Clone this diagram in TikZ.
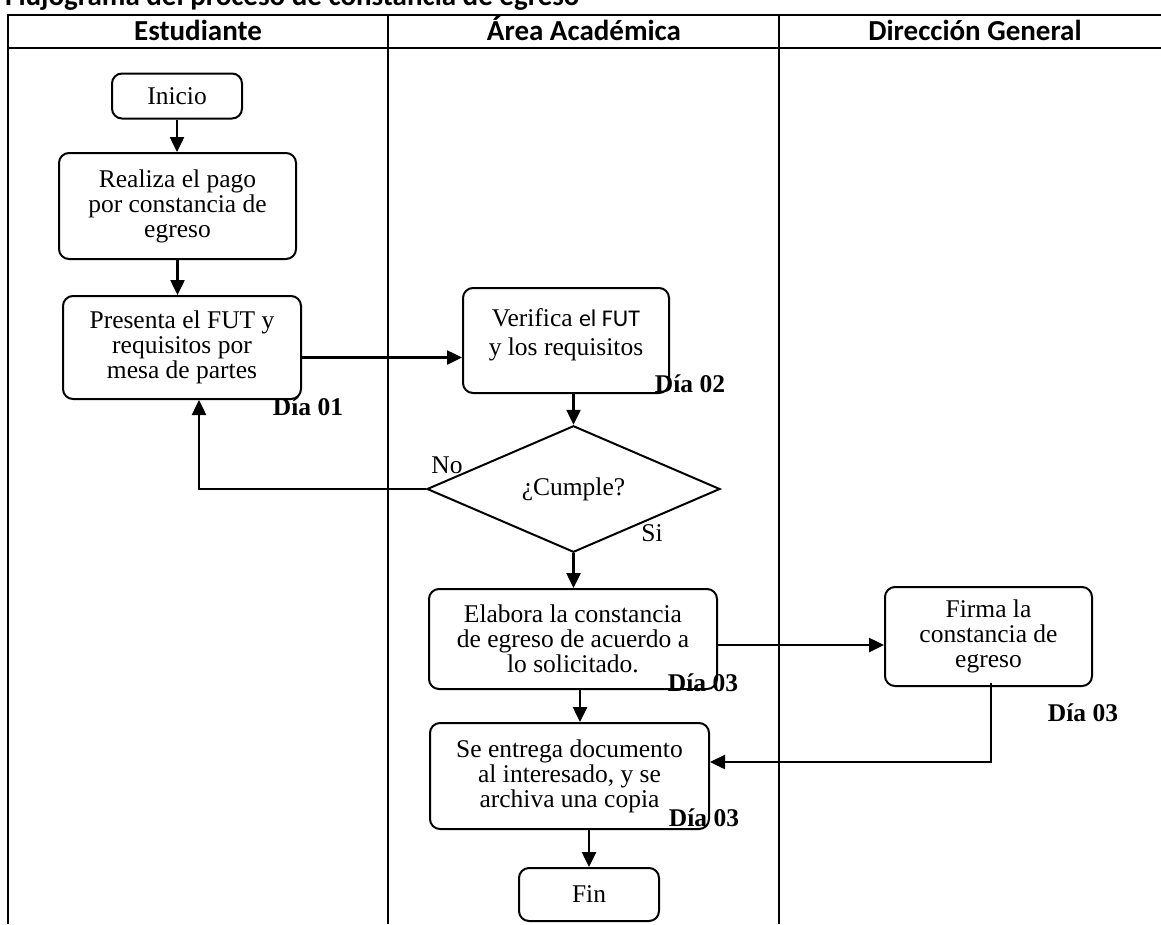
\documentclass[tikz,border=0pt]{standalone}
\usepackage{fontspec}
\setmainfont{Liberation Serif}
\newfontfamily\calibri{Carlito}
\usetikzlibrary{arrows.meta,shapes.geometric}

\begin{document}
\begin{tikzpicture}[x=1pt,y=-1pt,
  font=\fontsize{25.5}{25}\selectfont,
  grid/.style={line width=2pt},
  stepbox/.style={draw,line width=2pt,rounded corners=10pt,align=center,inner sep=0pt},
  decision/.style={draw,line width=2pt,diamond,inner sep=0pt},
  flow/.style={line width=2.5pt,-{Triangle[length=15pt,width=14pt]}},
  day/.style={font=\fontsize{25.5}{25}\selectfont\bfseries,inner sep=0pt},
  hdr/.style={font=\calibri\fontsize{29}{30}\selectfont\bfseries,inner sep=0pt},
  tag/.style={inner sep=0pt}
]
\useasboundingbox (0,0) rectangle (1161,924);

% title above the table
\node[hdr,anchor=base west] (title) at (5,5) {Flujograma del proceso de constancia de egreso};

% swimlane grid
\draw[grid] (8,924) -- (8,15) -- (1161,15);
\draw[grid] (8,48) -- (1161,48);
\draw[grid] (388,15) -- (388,924);
\draw[grid] (779,15) -- (779,924);

% lane headers
\node[hdr,anchor=base] (lane1) at (198,40) {Estudiante};
\node[hdr,anchor=base] (lane2) at (584,40) {Área Académica};
\node[hdr,anchor=base] (lane3) at (975,40) {Dirección General};

% process steps
\node[stepbox,minimum width=130pt,minimum height=45pt] (inicio) at (177,96) {Inicio};
\node[stepbox,minimum width=237pt,minimum height=106pt] (realiza) at (177.5,206)
  {Realiza el pago\\por constancia de\\egreso};
\node[stepbox,minimum width=238pt,minimum height=103pt] (presenta) at (182,347.5)
  {Presenta el FUT y\\requisitos por\\mesa de partes};
\node[stepbox,minimum width=206pt,minimum height=105pt] (verifica) at (566,340.5)
  {Verifica {\calibri\fontsize{24}{25}\selectfont el FUT}\\[4pt]y los requisitos\rule[-17pt]{0pt}{1pt}};
\node[decision,minimum width=293pt,minimum height=116pt] (cumple) at (573.5,489) {¿Cumple?};
\node[stepbox,minimum width=288pt,minimum height=100pt] (elabora) at (573,639)
  {Elabora la constancia\\de egreso de acuerdo a\\lo solicitado.};
\node[stepbox,minimum width=207pt,minimum height=99pt] (firma) at (988.5,636.5)
  {Firma la\\constancia de\\egreso};
\node[stepbox,minimum width=279pt,minimum height=106pt] (entrega) at (569.5,776)
  {Se entrega documento\\al interesado, y se\\archiva una copia};
\node[stepbox,minimum width=140pt,minimum height=53pt] (fin) at (589,894.5) {Fin};

% day marks and branch labels
\node[day] (d1) at (308,407) {Día 01};
\node[day] (d2) at (690,384) {Día 02};
\node[tag] (no) at (447,465) {No};
\node[tag] (si) at (652,533) {Si};
\node[day] (d3a) at (703,683) {Día 03};
\node[day] (d3b) at (1083,713) {Día 03};
\node[day] (d3c) at (704,818) {Día 03};

% connectors
\draw[flow] (inicio.south) -- (inicio.south |- realiza.north);
\draw[flow] (realiza.south) -- (realiza.south |- presenta.north);
\coordinate (p1) at ([yshift=-10pt]presenta.east);
\draw[flow] (p1) -- (p1 -| verifica.west);
\draw[flow] (verifica.south -| cumple.north) -- (cumple.north);
\draw[flow] (cumple.west) -| ([xshift=17pt]presenta.south);
\draw[flow] (cumple.south) -- (cumple.south |- elabora.north);
\coordinate (e1) at ([yshift=-6pt]elabora.east);
\draw[flow] (e1) -- (e1 -| firma.west);
\coordinate (e2) at ([xshift=7pt]elabora.south);
\draw[flow] (e2) -- (e2 |- entrega.north);
\draw[flow] ([xshift=2.5pt,yshift=4pt]firma.south) |- ([yshift=14pt]entrega.east);
\draw[flow] (fin.north |- entrega.south) -- (fin.north);
\end{tikzpicture}
\end{document}
